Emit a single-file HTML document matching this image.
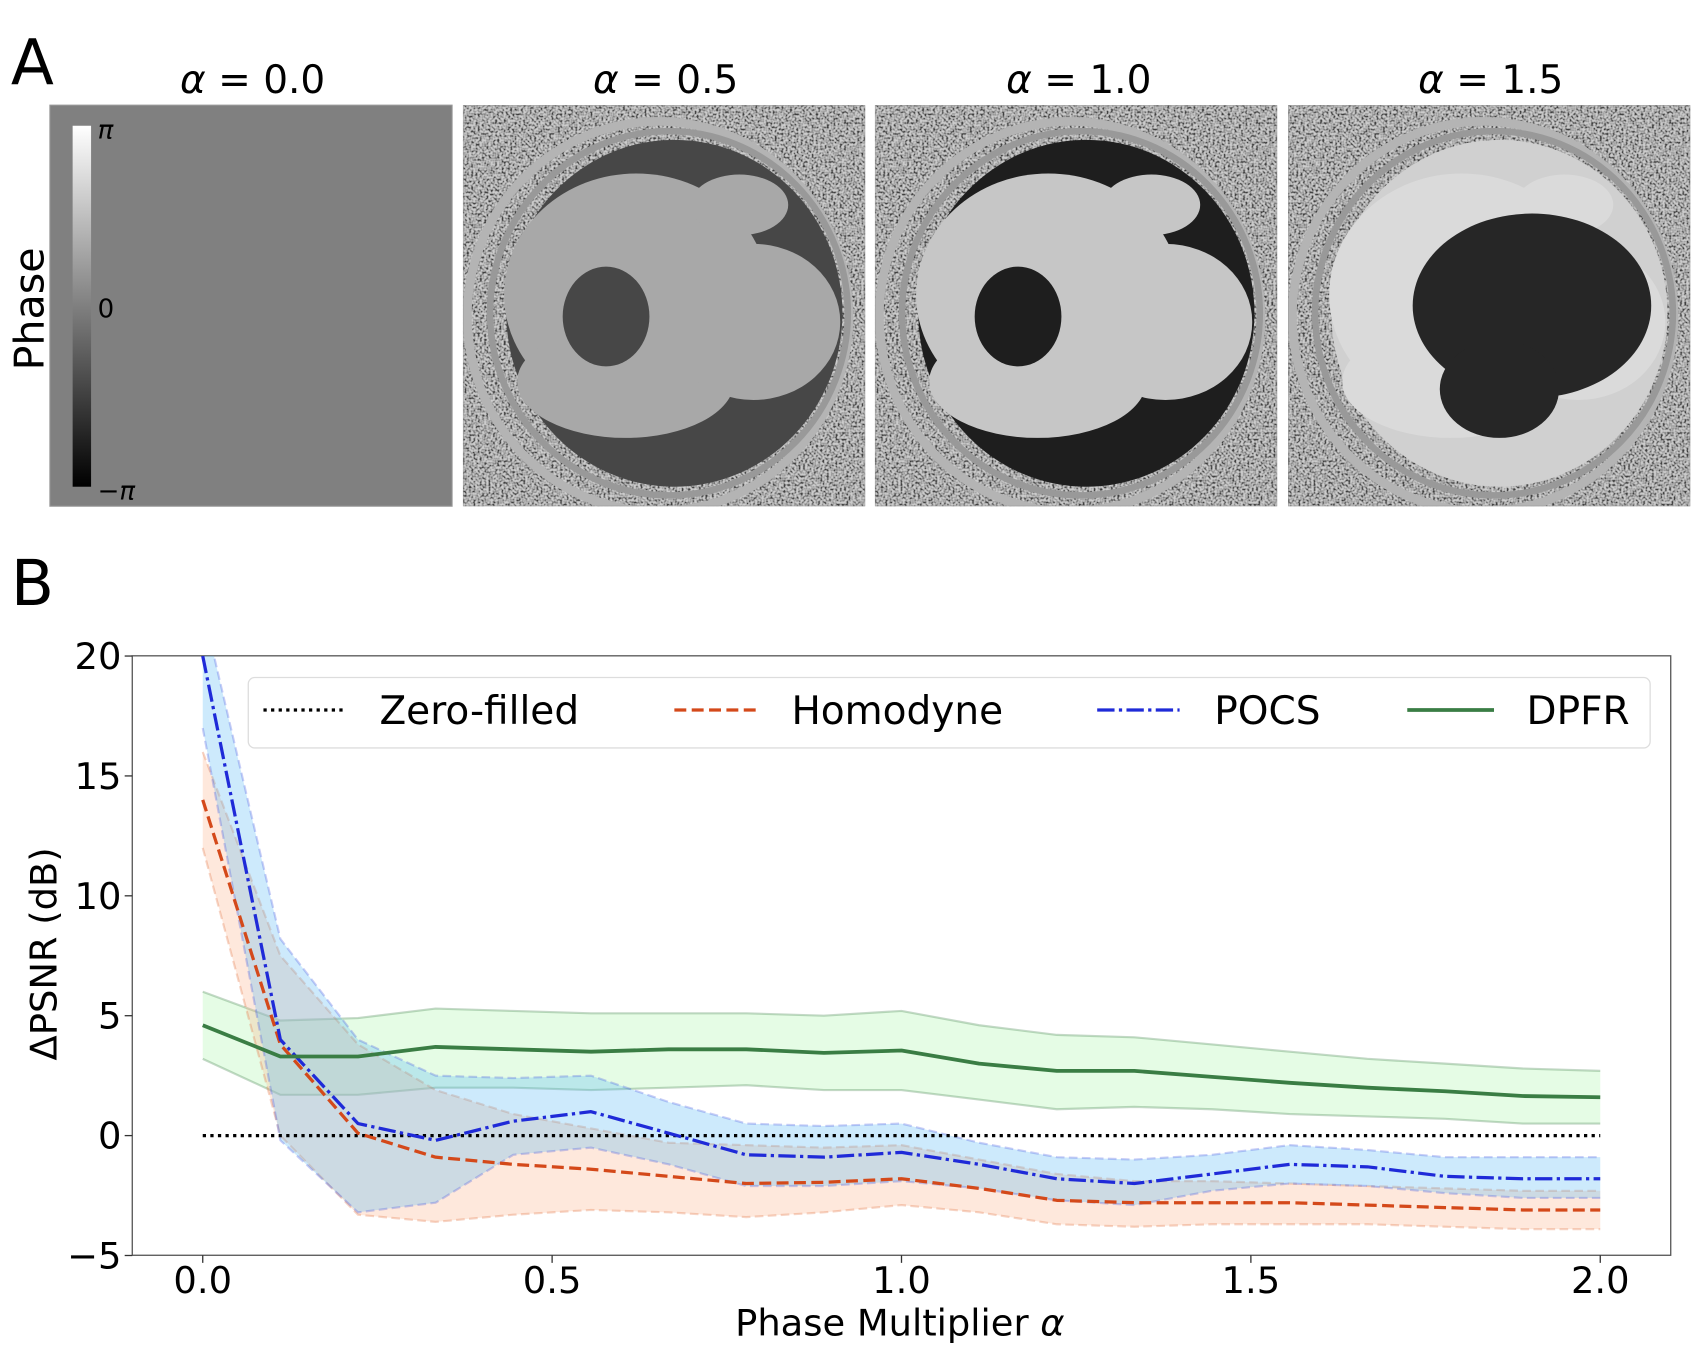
<!DOCTYPE html>
<html><head><meta charset="utf-8">
<style>
html,body{margin:0;padding:0;background:#fff;}
svg{display:block;}
text{font-family:"DejaVu Sans","Liberation Sans",sans-serif;fill:#000;}
</style></head>
<body>
<svg id="fig" width="1700" height="1355" viewBox="0 0 1568 1250" preserveAspectRatio="none" xmlns="http://www.w3.org/2000/svg">
<defs>
  <filter id="noise" x="0" y="0" width="100%" height="100%">
    <feTurbulence type="fractalNoise" baseFrequency="0.5" numOctaves="1" seed="3"/>
    <feColorMatrix type="matrix" values="3 0 0 0 -0.95  3 0 0 0 -0.95  3 0 0 0 -0.95  0 0 0 0 1"/>
  </filter>
  <linearGradient id="cbar" x1="0" y1="1" x2="0" y2="0">
    <stop offset="0" stop-color="#000"/><stop offset="1" stop-color="#fff"/>
  </linearGradient>
  <clipPath id="plotclip"><rect x="122" y="605" width="1419" height="553"/></clipPath>
  <clipPath id="panelclip"><rect x="0" y="0" width="371" height="370"/></clipPath>
</defs>

<text x="10" y="78" font-size="58" font-family="Liberation Sans">A</text>
<text x="10" y="558" font-size="58" font-family="Liberation Sans">B</text>

<g>
  <text x="233" y="86" font-size="36" text-anchor="middle"><tspan font-style="italic">α</tspan> = 0.0</text>
  <text x="614" y="86" font-size="36" text-anchor="middle"><tspan font-style="italic">α</tspan> = 0.5</text>
  <text x="995" y="86" font-size="36" text-anchor="middle"><tspan font-style="italic">α</tspan> = 1.0</text>
  <text x="1375" y="86" font-size="36" text-anchor="middle"><tspan font-style="italic">α</tspan> = 1.5</text>
  <text transform="translate(40,285) rotate(-90)" font-size="38" text-anchor="middle">Phase</text>

  <g>
    <rect x="46" y="97" width="371" height="370" fill="#808080" stroke="#999" stroke-width="1"/>
    <rect x="67" y="116" width="17" height="333" fill="url(#cbar)"/>
    <text x="90" y="128" font-size="24" font-style="italic">π</text>
    <text x="90" y="293" font-size="24">0</text>
    <text x="90" y="461" font-size="24">−<tspan font-style="italic">π</tspan></text>
  </g>
</g>
<g id="mri"></g>

<g>
  <rect x="122" y="605" width="1419" height="553" fill="#fff" stroke="#555" stroke-width="1.2"/>
  <g id="bands" clip-path="url(#plotclip)"></g>
  <g id="lines" clip-path="url(#plotclip)"></g>
  <g id="ticks"></g>
  <text transform="translate(52,880) rotate(-90)" font-size="34" text-anchor="middle">ΔPSNR (dB)</text>
  <text x="830" y="1232" font-size="34" text-anchor="middle">Phase Multiplier <tspan font-style="italic">α</tspan></text>
  <g>
    <rect x="229" y="625" width="1293" height="65" rx="6" fill="#fff" fill-opacity="0.85" stroke="#ddd" stroke-width="1.2"/>
    <g>
      <line x1="243" y1="655" x2="320" y2="655" stroke="#000" stroke-width="3" stroke-dasharray="3,4"/>
      <text x="350" y="668" font-size="36">Zero-filled</text>
    </g>
    <g>
      <line x1="622" y1="655" x2="698" y2="655" stroke="#d4491a" stroke-width="3" stroke-dasharray="11,5"/>
      <text x="730" y="668" font-size="36">Homodyne</text>
    </g>
    <g>
      <line x1="1012" y1="655" x2="1088" y2="655" stroke="#1f2ad8" stroke-width="3" stroke-dasharray="16,4,3,4"/>
      <text x="1120" y="668" font-size="36">POCS</text>
    </g>
    <g>
      <line x1="1298" y1="655" x2="1378" y2="655" stroke="#3a7d44" stroke-width="3.5"/>
      <text x="1408" y="668" font-size="36">DPFR</text>
    </g>
  </g>
</g>
</svg>
<script>
const alphas = [0,1/9,2/9,3/9,4/9,5/9,6/9,7/9,8/9,1,10/9,11/9,12/9,13/9,14/9,15/9,16/9,17/9,2];
const zeroFilled = alphas.map(()=>0);
const dpfrMean = [4.6,3.3,3.3,3.7,3.6,3.5,3.6,3.6,3.45,3.55,3.0,2.7,2.7,2.45,2.2,2.0,1.85,1.65,1.6];
const dpfrHi = [6.0,4.8,4.9,5.3,5.2,5.1,5.1,5.1,5.0,5.2,4.6,4.2,4.1,3.8,3.5,3.2,3.0,2.8,2.7];
const dpfrLo = [3.2,1.7,1.7,2.0,2.0,1.9,2.0,2.1,1.9,1.9,1.5,1.1,1.2,1.1,0.9,0.8,0.7,0.5,0.5];
const homMean = [14.0,3.8,0.1,-0.9,-1.2,-1.4,-1.7,-2.0,-1.95,-1.8,-2.2,-2.7,-2.8,-2.8,-2.8,-2.9,-3.0,-3.1,-3.1];
const homHi = [16.0,7.5,3.8,1.9,0.9,0.3,-0.3,-0.4,-0.5,-0.4,-1.0,-1.6,-1.9,-1.9,-2.0,-2.1,-2.2,-2.3,-2.3];
const homLo = [12.0,0.0,-3.3,-3.6,-3.3,-3.1,-3.2,-3.4,-3.2,-2.9,-3.2,-3.7,-3.8,-3.7,-3.7,-3.7,-3.8,-3.9,-3.9];
const pocsMean = [20.0,4.0,0.5,-0.2,0.6,1.0,0.1,-0.8,-0.9,-0.7,-1.2,-1.8,-2.0,-1.6,-1.2,-1.3,-1.7,-1.8,-1.8];
const pocsHi = [22.0,8.2,4.0,2.5,2.4,2.5,1.4,0.5,0.4,0.5,-0.3,-0.9,-1.0,-0.8,-0.4,-0.6,-0.9,-0.9,-0.9];
const pocsLo = [17.0,-0.2,-3.2,-2.8,-0.8,-0.5,-1.2,-2.1,-2.1,-1.9,-2.2,-2.7,-2.9,-2.3,-2.0,-2.1,-2.4,-2.6,-2.6];
const xTicks = [0,0.5,1.0,1.5,2.0];
const xTickLabels = ["0.0","0.5","1.0","1.5","2.0"];
const yTicks = [-5,0,5,10,15,20];
const yTickLabels = ["−5","0","5","10","15","20"];

const NS="http://www.w3.org/2000/svg";
const X = a => 187 + a*644.5;
const Y = v => 1047.6 - v*22.12;
function mk(tag, attrs, parent){const e=document.createElementNS(NS,tag);for(const k in attrs)e.setAttribute(k,attrs[k]);parent.appendChild(e);return e;}
const pts = arr => arr.map((v,i)=>X(alphas[i]).toFixed(1)+","+Y(v).toFixed(1)).join(" ");

const bands=document.getElementById('bands'), lines=document.getElementById('lines'), ticks=document.getElementById('ticks');
function bandPoly(hi,lo){const f=hi.map((v,i)=>X(alphas[i]).toFixed(1)+","+Y(v).toFixed(1));const r=lo.map((v,i)=>X(alphas[i]).toFixed(1)+","+Y(v).toFixed(1)).reverse();return f.concat(r).join(" ");}
function band2(hi,lo,fill,edge,dash,name){
  const p=mk('polygon',{points:bandPoly(hi,lo),fill:fill,'fill-opacity':0.3},bands);
  
  
  [hi,lo].forEach((arr,k)=>{
    const l=mk('polyline',{points:pts(arr),fill:'none',stroke:edge,'stroke-width':2,'stroke-opacity':0.3,'stroke-dasharray':dash},bands);
    
    
  });
}
band2(dpfrHi,dpfrLo,'#a8f5a8','#3a7d44','none','dpfr-band');
band2(homHi,homLo,'#fbb48c','#e07040','8,4','homodyne-band');
band2(pocsHi,pocsLo,'#5ab8f5','#4a5ae0','8,4','pocs-band');

function line(arr,color,w,dash,name){
  const l=mk('polyline',{points:pts(arr),fill:'none',stroke:color,'stroke-width':w,'stroke-dasharray':dash,'stroke-linejoin':'round'},lines);
  
  
}
line(zeroFilled,'#000',3,'3,4','zero-filled-line');
line(homMean,'#d4491a',3,'11,5','homodyne-line');
line(pocsMean,'#1f2ad8',3,'16,4,3,4','pocs-line');
line(dpfrMean,'#3a7d44',3.5,'none','dpfr-line');

xTicks.forEach((t,i)=>{
  mk('line',{x1:X(t),x2:X(t),y1:1158,y2:1165,stroke:'#333','stroke-width':1.2},ticks);
  const tx=mk('text',{x:X(t),y:1193,'font-size':34,'text-anchor':'middle'},ticks);
  tx.textContent=xTickLabels[i];
  
  
});
yTicks.forEach((t,i)=>{
  mk('line',{x1:115,x2:122,y1:Y(t),y2:Y(t),stroke:'#333','stroke-width':1.2},ticks);
  const tx=mk('text',{x:112,y:Y(t)+12,'font-size':34,'text-anchor':'end'},ticks);
  tx.textContent=yTickLabels[i];
  
  
});

// MRI phase images (illustrative)
const mri=document.getElementById('mri');
const panels=[
 {x:427,dark:'#474747',light:'#a8a8a8',blob:null,name:'image-alpha-05'},
 {x:807,dark:'#1e1e1e',light:'#c6c6c6',blob:null,name:'image-alpha-10'},
 {x:1188,dark:'#d0d0d0',light:'#dadada',blob:'#262626',name:'image-alpha-15'}
];
panels.forEach(p=>{
  const g0=mk('g',{transform:`translate(${p.x},97)`},mri);
  
  
  const g=mk('g',{'clip-path':'url(#panelclip)'},g0);
  mk('rect',{x:0,y:0,width:371,height:370,fill:'#8e8e8e'},g);
  mk('rect',{x:0,y:0,width:371,height:370,fill:'#fff',filter:'url(#noise)',opacity:0.55},g);
  mk('ellipse',{cx:180,cy:195,rx:176,ry:180,fill:'none',stroke:'#b4b4b4','stroke-width':8},g);
  mk('ellipse',{cx:190,cy:192,rx:165,ry:168,fill:'none',stroke:'#999','stroke-width':6},g);
  mk('ellipse',{cx:195,cy:192,rx:155,ry:160,fill:p.dark},g);
  mk('ellipse',{cx:160,cy:175,rx:122,ry:112,fill:p.light},g);
  mk('ellipse',{cx:150,cy:255,rx:100,ry:52,fill:p.light},g);
  mk('ellipse',{cx:268,cy:200,rx:80,ry:72,fill:p.light},g);
  mk('ellipse',{cx:255,cy:92,rx:45,ry:28,fill:p.light},g);
  if(p.blob){
    mk('ellipse',{cx:225,cy:185,rx:110,ry:85,fill:p.blob},g);
    mk('ellipse',{cx:195,cy:262,rx:55,ry:45,fill:p.blob},g);
  } else {
    mk('ellipse',{cx:132,cy:195,rx:40,ry:46,fill:p.dark},g);
  }
  mk('rect',{x:0,y:0,width:371,height:370,fill:'none',stroke:'#999'},g);
});
</script>
</body></html>
